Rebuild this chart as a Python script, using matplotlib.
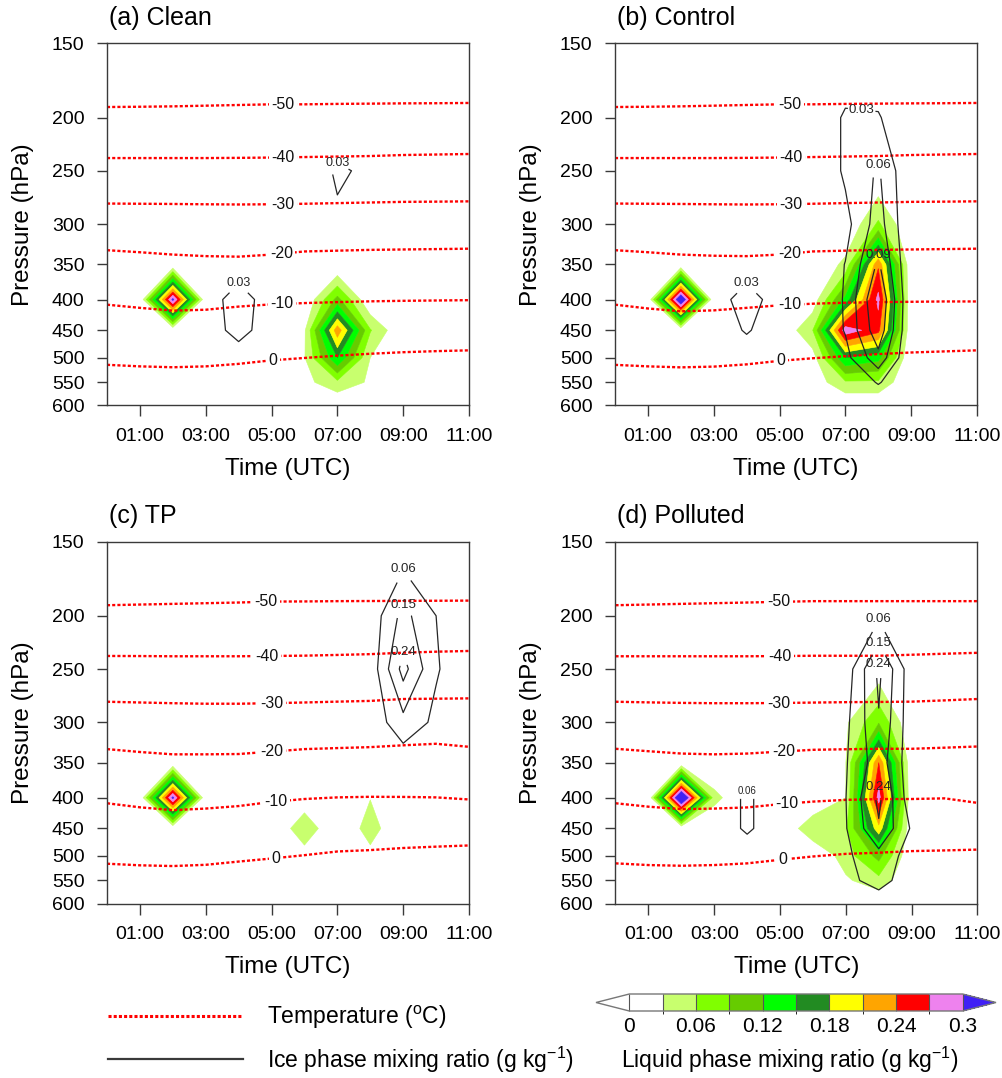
import numpy as np
import matplotlib
matplotlib.use("Agg")
import matplotlib.pyplot as plt
from matplotlib.colors import ListedColormap, BoundaryNorm
from matplotlib.lines import Line2D
from matplotlib.ticker import NullLocator

plt.rcParams['font.family'] = ['Liberation Sans', 'DejaVu Sans']
plt.rcParams['mathtext.fontset'] = 'custom'
plt.rcParams['mathtext.rm'] = 'Liberation Sans'
plt.rcParams['mathtext.it'] = 'Liberation Sans:italic'

# ---------------- data ----------------
hours = np.arange(12)                       # 00:00 ... 11:00 UTC
pres = [150, 200, 250, 300, 350, 400, 450, 500, 550, 600]
time_ticks = [1, 3, 5, 7, 9, 11]
time_labels = ['01:00', '03:00', '05:00', '07:00', '09:00', '11:00']

# liquid phase mixing ratio (g/kg), rows = pres, cols = hours
liq_clean = [
    [0, 0, 0,    0, 0, 0, 0,     0,     0,      0, 0, 0],
    [0, 0, 0,    0, 0, 0, 0,     0,     0,      0, 0, 0],
    [0, 0, 0,    0, 0, 0, 0,     0,     0,      0, 0, 0],
    [0, 0, 0,    0, 0, 0, 0,     0,     0,      0, 0, 0],
    [0, 0, 0,    0, 0, 0, 0,     0,     0,      0, 0, 0],
    [0, 0, 0.31, 0, 0, 0, 0,     0.10,  0,      0, 0, 0],
    [0, 0, 0,    0, 0, 0, 0.025, 0.23,  0.0625, 0, 0, 0],
    [0, 0, 0,    0, 0, 0, 0.028, 0.15,  0.03,   0, 0, 0],
    [0, 0, 0,    0, 0, 0, 0.02,  0.052, 0.025,  0, 0, 0],
    [0, 0, 0,    0, 0, 0, 0,     0,     0,      0, 0, 0],
]
liq_control = [
    [0, 0, 0,    0, 0, 0, 0,     0,     0,     0, 0, 0],
    [0, 0, 0,    0, 0, 0, 0,     0,     0,     0, 0, 0],
    [0, 0, 0,    0, 0, 0, 0,     0,     0,     0, 0, 0],
    [0, 0, 0,    0, 0, 0, 0,     0,     0.065, 0, 0, 0],
    [0, 0, 0,    0, 0, 0, 0,     0.038, 0.235, 0, 0, 0],
    [0, 0, 0.35, 0, 0, 0, 0.01,  0.13,  0.28,  0, 0, 0],
    [0, 0, 0,    0, 0, 0, 0.058, 0.29,  0.25,  0, 0, 0],
    [0, 0, 0,    0, 0, 0, 0.015, 0.15,  0.13,  0, 0, 0],
    [0, 0, 0,    0, 0, 0, 0.01,  0.055, 0.055, 0, 0, 0],
    [0, 0, 0,    0, 0, 0, 0,     0,     0,     0, 0, 0],
]
liq_tp = [
    [0, 0, 0,    0, 0, 0, 0,     0, 0,     0, 0, 0],
    [0, 0, 0,    0, 0, 0, 0,     0, 0,     0, 0, 0],
    [0, 0, 0,    0, 0, 0, 0,     0, 0,     0, 0, 0],
    [0, 0, 0,    0, 0, 0, 0,     0, 0,     0, 0, 0],
    [0, 0, 0,    0, 0, 0, 0,     0, 0,     0, 0, 0],
    [0, 0, 0.31, 0, 0, 0, 0.01,  0, 0.029, 0, 0, 0],
    [0, 0, 0,    0, 0, 0, 0.052, 0, 0.044, 0, 0, 0],
    [0, 0, 0,    0, 0, 0, 0.015, 0, 0.02,  0, 0, 0],
    [0, 0, 0,    0, 0, 0, 0,     0, 0,     0, 0, 0],
    [0, 0, 0,    0, 0, 0, 0,     0, 0,     0, 0, 0],
]
liq_polluted = [
    [0, 0, 0,    0,    0, 0, 0,     0,     0,     0, 0, 0],
    [0, 0, 0,    0,    0, 0, 0,     0,     0,     0, 0, 0],
    [0, 0, 0,    0,    0, 0, 0,     0,     0.01,  0, 0, 0],
    [0, 0, 0,    0,    0, 0, 0,     0.025, 0.087, 0, 0, 0],
    [0, 0, 0,    0,    0, 0, 0,     0.03,  0.24,  0, 0, 0],
    [0, 0, 0.37, 0.04, 0, 0, 0,     0.03,  0.284, 0, 0, 0],
    [0, 0, 0,    0,    0, 0, 0.054, 0.055, 0.2,   0, 0, 0],
    [0, 0, 0,    0,    0, 0, 0,     0.045, 0.1,   0, 0, 0],
    [0, 0, 0,    0,    0, 0, 0,     0.025, 0.05,  0, 0, 0],
    [0, 0, 0,    0,    0, 0, 0,     0,     0,     0, 0, 0],
]

# ice phase mixing ratio (g/kg), rows = pres, cols = hours
ice_clean = [
    [0, 0, 0, 0, 0,     0, 0, 0,     0,     0, 0, 0],
    [0, 0, 0, 0, 0,     0, 0, 0,     0,     0, 0, 0],
    [0, 0, 0, 0, 0,     0, 0, 0.036, 0.022, 0, 0, 0],
    [0, 0, 0, 0, 0,     0, 0, 0.022, 0,     0, 0, 0],
    [0, 0, 0, 0, 0,     0, 0, 0,     0,     0, 0, 0],
    [0, 0, 0, 0, 0.058, 0, 0, 0,     0,     0, 0, 0],
    [0, 0, 0, 0, 0.05,  0, 0, 0,     0,     0, 0, 0],
    [0, 0, 0, 0, 0,     0, 0, 0,     0,     0, 0, 0],
    [0, 0, 0, 0, 0,     0, 0, 0,     0,     0, 0, 0],
    [0, 0, 0, 0, 0,     0, 0, 0,     0,     0, 0, 0],
]
ice_control = [
    [0, 0, 0, 0, 0,     0, 0, 0,     0,     0, 0, 0],
    [0, 0, 0, 0, 0,     0, 0, 0.035, 0.033, 0, 0, 0],
    [0, 0, 0, 0, 0,     0, 0, 0.035, 0.064, 0, 0, 0],
    [0, 0, 0, 0, 0,     0, 0, 0.02,  0.074, 0, 0, 0],
    [0, 0, 0, 0, 0,     0, 0, 0.031, 0.095, 0, 0, 0],
    [0, 0, 0, 0, 0.058, 0, 0, 0.033, 0.12,  0, 0, 0],
    [0, 0, 0, 0, 0.035, 0, 0, 0.032, 0.11,  0, 0, 0],
    [0, 0, 0, 0, 0,     0, 0, 0.02,  0.08,  0, 0, 0],
    [0, 0, 0, 0, 0,     0, 0, 0,     0.033, 0, 0, 0],
    [0, 0, 0, 0, 0,     0, 0, 0,     0,     0, 0, 0],
]
ice_tp = [
    [0, 0, 0, 0, 0, 0, 0, 0, 0, 0,     0,     0],
    [0, 0, 0, 0, 0, 0, 0, 0, 0, 0.18,  0.06,  0],
    [0, 0, 0, 0, 0, 0, 0, 0, 0, 0.272, 0.068, 0],
    [0, 0, 0, 0, 0, 0, 0, 0, 0, 0.12,  0.04,  0],
    [0, 0, 0, 0, 0, 0, 0, 0, 0, 0,     0,     0],
    [0, 0, 0, 0, 0, 0, 0, 0, 0, 0,     0,     0],
    [0, 0, 0, 0, 0, 0, 0, 0, 0, 0,     0,     0],
    [0, 0, 0, 0, 0, 0, 0, 0, 0, 0,     0,     0],
    [0, 0, 0, 0, 0, 0, 0, 0, 0, 0,     0,     0],
    [0, 0, 0, 0, 0, 0, 0, 0, 0, 0,     0,     0],
]
ice_polluted = [
    [0, 0, 0, 0, 0,     0, 0, 0,     0,     0,     0, 0],
    [0, 0, 0, 0, 0,     0, 0, 0,     0.05,  0,     0, 0],
    [0, 0, 0, 0, 0,     0, 0, 0.007, 0.26,  0,     0, 0],
    [0, 0, 0, 0, 0,     0, 0, 0.039, 0.232, 0,     0, 0],
    [0, 0, 0, 0, 0,     0, 0, 0.053, 0.2,   0,     0, 0],
    [0, 0, 0, 0, 0.075, 0, 0, 0.059, 0.26,  0,     0, 0],
    [0, 0, 0, 0, 0.075, 0, 0, 0.055, 0.23,  0.049, 0, 0],
    [0, 0, 0, 0, 0,     0, 0, 0.044, 0.12,  0.02,  0, 0],
    [0, 0, 0, 0, 0,     0, 0, 0.031, 0.1,   0,     0, 0],
    [0, 0, 0, 0, 0,     0, 0, 0,     0,     0,     0, 0],
]

# isotherms: pressure (hPa) of each temperature level at each hour
t_levels = [-50, -40, -30, -20, -10, 0]
iso_clean = [
    [192, 191.8, 191.5, 191, 190.5, 190, 190, 189.7, 189.5, 189.3, 189.2, 189],
    [237, 237, 237, 237, 236.8, 236.5, 236, 235.5, 235, 234, 233.5, 233],
    [279.6, 279.8, 280, 280.3, 280.5, 280.3, 279.8, 279.2, 278.6, 278, 277.8, 277.5],
    [331.4, 334, 337, 339, 339.7, 337, 333, 332, 331, 330.5, 330, 329.5],
    [408, 413, 417.4, 416, 411, 407.5, 405.5, 404, 402.8, 402, 401.5, 401],
    [513.9, 517, 518.8, 517, 512, 505, 500.4, 496, 492.4, 489.5, 487.5, 486],
]
iso_control = [
    [192, 191.8, 191.5, 191, 190.5, 190, 190, 189.7, 189.5, 189.3, 189.2, 189],
    [237, 237, 237, 237, 236.8, 236.5, 236, 235.5, 235, 234, 233.5, 233],
    [279.6, 279.8, 280, 280.3, 280.5, 280.3, 279.8, 279.2, 278.6, 278, 277.8, 277.5],
    [331.4, 334, 337, 338.5, 339, 337, 333, 332, 331, 330.5, 330, 329.5],
    [408, 414, 418.5, 417, 413, 409, 406.5, 405, 404, 403.5, 403, 403],
    [514, 517, 519, 517.5, 513, 506, 501, 497, 493, 490, 488, 486],
]
iso_tp = [
    [192, 191.5, 191, 190.5, 190, 189.3, 189.2, 189, 188.9, 188.8, 188.7, 188.6],
    [236.7, 236.8, 237, 237, 237, 236.7, 236.4, 235.7, 234.9, 233.5, 232.5, 231.8],
    [279.6, 280.3, 281, 281.5, 281.5, 281, 280.3, 279.5, 278.8, 277, 276.7, 276.4],
    [332.3, 336, 339, 339, 338.6, 335.5, 332.3, 331, 329.8, 327.5, 325.6, 329.4],
    [408.6, 415, 419.5, 417, 413, 406.5, 402, 399.5, 398.6, 398.8, 399.5, 402.7],
    [515.3, 518.5, 520, 517.5, 511, 505, 498.5, 491.5, 488.9, 485, 482.5, 480.3],
]
iso_polluted = [
    [192, 191.5, 191, 190.5, 190, 189.5, 189, 189, 189, 189, 189, 189],
    [237, 237, 237, 237, 237, 236.8, 236.5, 236.5, 236.5, 235.5, 234.5, 233.6],
    [279.6, 280.2, 280.7, 281, 281, 280.8, 280.4, 280, 279.8, 279.5, 278.3, 277],
    [331.9, 335, 338, 339, 338, 335.5, 333.2, 332.5, 331.9, 331.9, 330.5, 329],
    [408.6, 414, 417.9, 417, 415.2, 410, 406, 403.3, 402.1, 402, 401, 408],
    [514.6, 518, 519.4, 518, 514.6, 507.5, 501, 496, 493.8, 490.8, 489.5, 488],
]
# hour at which each isotherm is labelled
iso_lab_clean = [5.34, 5.34, 5.33, 5.3, 5.32, 5.05]
iso_lab_control = [5.32, 5.34, 5.34, 5.3, 5.3, 5.05]
iso_lab_tp = [4.83, 4.85, 5.0, 5.0, 5.14, 5.14]
iso_lab_polluted = [4.96, 4.98, 4.96, 5.1, 5.21, 5.09]

liq_levels = [0, 0.03, 0.06, 0.09, 0.12, 0.15, 0.18, 0.21, 0.24, 0.27, 0.3]
liq_colors = ['#FFFFFF', '#C8FF6E', '#80FF00', '#66CC00', '#00FF00',
              '#228B22', '#FFFF00', '#FFA500', '#FF0000', '#EE82EE']
ice_levels_ab = [0.03, 0.06, 0.09]
ice_levels_cd = [0.06, 0.15, 0.24]

# where the ice contour labels sit (level, hour, hPa, fontsize)
ice_lab_clean = [(0.03, 4.0, 376, 9), (0.03, 7.0, 242, 9)]
ice_lab_control = [(0.03, 4.0, 376, 9.5), (0.03, 7.5, 193, 9.5),
                   (0.06, 8.0, 243, 9.5), (0.09, 8.0, 338, 9.5)]
ice_lab_tp = [(0.06, 9.0, 167, 9.5), (0.15, 9.0, 192, 9.5), (0.24, 9.0, 233, 9.5)]
ice_lab_polluted = [(0.06, 4.0, 390, 7), (0.06, 8.0, 202, 9.5), (0.15, 8.0, 224, 9.5),
                    (0.24, 8.0, 245, 9.5), (0.24, 8.0, 383, 9.5)]

# pressure axis as drawn in the original (nearly log-p)
scale_p = [150, 200, 250, 300, 350, 400, 450, 500, 550, 600]
scale_pos = [0, 74.2, 127.4, 180.7, 221, 256, 286.7, 314.2, 338.7, 361.7]


def p_fwd(p):
    p = np.clip(np.asarray(p, dtype=float), 1.0, None)
    return np.interp(np.log(p), np.log(scale_p), scale_pos)


def p_inv(y):
    return np.exp(np.interp(np.asarray(y, dtype=float), scale_pos, np.log(scale_p)))


W, H = 1003, 1078
fig = plt.figure(figsize=(W / 100, H / 100), dpi=100)


def px_axes(left, top, w, h):
    return fig.add_axes([left / W, 1 - (top + h) / H, w / W, h / H])


cmap = ListedColormap(liq_colors)
cmap.set_under('#FFFFFF')
cmap.set_over('#4020F5')
norm = BoundaryNorm(liq_levels, cmap.N)

panels = [
    ('(a) Clean', (107, 43.3), liq_clean, ice_clean, iso_clean, iso_lab_clean, ice_levels_ab, ice_lab_clean),
    ('(b) Control', (615, 43.3), liq_control, ice_control, iso_control, iso_lab_control, ice_levels_ab, ice_lab_control),
    ('(c) TP', (107, 541.5), liq_tp, ice_tp, iso_tp, iso_lab_tp, ice_levels_cd, ice_lab_tp),
    ('(d) Polluted', (615.5, 541.5), liq_polluted, ice_polluted, iso_polluted, iso_lab_polluted, ice_levels_cd, ice_lab_polluted),
]

axc = '#3a3a3a'
cf = None
for title, (left, top), liq, ice, iso, iso_lab, ice_lv, ice_lab in panels:
    ax = px_axes(left, top, 362, 362)
    ax.set_yscale('function', functions=(p_fwd, p_inv))

    cf = ax.contourf(hours, pres, np.array(liq), levels=liq_levels, cmap=cmap,
                     norm=norm, extend='both', zorder=1, antialiased=True)
    cf.set_edgecolor('face')
    cf.set_linewidth(0.4)

    for i, lv in enumerate(t_levels):
        ax.plot(hours, iso[i], color='#FF0000', lw=1.7, ls=(0, (1.3, 0.9)), zorder=2)
        hx = iso_lab[i]
        ax.text(hx, np.interp(hx, hours, iso[i]), str(lv), ha='center', va='center',
                fontsize=11.5, color='#111111', zorder=3,
                bbox=dict(fc='white', ec='none', pad=1.8))

    for lv in ice_lv:
        cs = ax.contour(hours, pres, np.array(ice), levels=[lv], colors='#262626',
                        linewidths=0.9, zorder=4)
        for (l, hx, px, fs) in ice_lab:
            if l == lv:
                ax.clabel(cs, manual=[(hx, px)], fmt='%.2f', fontsize=fs,
                          inline=True, inline_spacing=1, colors='#262626')
        for t in cs.labelTexts:
            t.set_rotation(0)

    ax.set_xlim(0, 11)
    ax.set_ylim(600, 150)
    ax.set_xticks(time_ticks)
    ax.set_xticklabels(time_labels)
    ax.set_yticks(pres)
    ax.set_yticklabels([str(p) for p in pres])
    ax.yaxis.set_minor_locator(NullLocator())
    ax.xaxis.set_minor_locator(NullLocator())
    ax.tick_params(axis='y', direction='out', length=7.2, width=1.0, color=axc,
                   labelsize=14, pad=9)
    ax.tick_params(axis='x', direction='out', length=8, width=1.0, color=axc,
                   labelsize=14, pad=8)
    for sp in ax.spines.values():
        sp.set_color(axc)
        sp.set_linewidth(1.0)

    ax.text(0.005, 1 + 25 / 362, title, transform=ax.transAxes, ha='left',
            va='center', fontsize=18)
    ax.text(0.5, -64 / 362, 'Time (UTC)', transform=ax.transAxes, ha='center',
            va='center', fontsize=17.5)
    ax.text(-84 / 362, 0.5, 'Pressure (hPa)', transform=ax.transAxes, ha='center',
            va='center', rotation=90, fontsize=17.5)

# colorbar for the liquid phase
cax = px_axes(596, 994, 400, 17)
cb = fig.colorbar(cf, cax=cax, orientation='horizontal', extendfrac=0.1,
                  drawedges=True, ticks=[0, 0.06, 0.12, 0.18, 0.24, 0.3])
cb.set_ticklabels(['0', '0.06', '0.12', '0.18', '0.24', '0.3'])
cb.ax.tick_params(length=0, labelsize=15, pad=4)
cb.outline.set_edgecolor('#777777')
cb.outline.set_linewidth(1.0)
cb.dividers.set_color('#555555')
cb.dividers.set_linewidth(0.8)
cb.set_label('Liquid phase mixing ratio (g kg$^{-1}$)', fontsize=16.5)
cb.ax.xaxis.set_label_coords(0.48, -2.0)

# legend for the line fields
handles = [Line2D([], [], color='#FF0000', lw=2.2, ls=(0, (1.0, 0.7))),
           Line2D([], [], color='#3a3a3a', lw=1.6)]
fig.legend(handles, ['Temperature ($^{\\rm o}$C)', 'Ice phase mixing ratio (g kg$^{-1}$)'],
           loc='center left', bbox_to_anchor=(108 / W, 1 - 1039 / H), frameon=False,
           fontsize=16.5, handlelength=5.9, handletextpad=1.05, labelspacing=0.6,
           borderpad=0, borderaxespad=0)

fig.savefig('out.png', dpi=100)
